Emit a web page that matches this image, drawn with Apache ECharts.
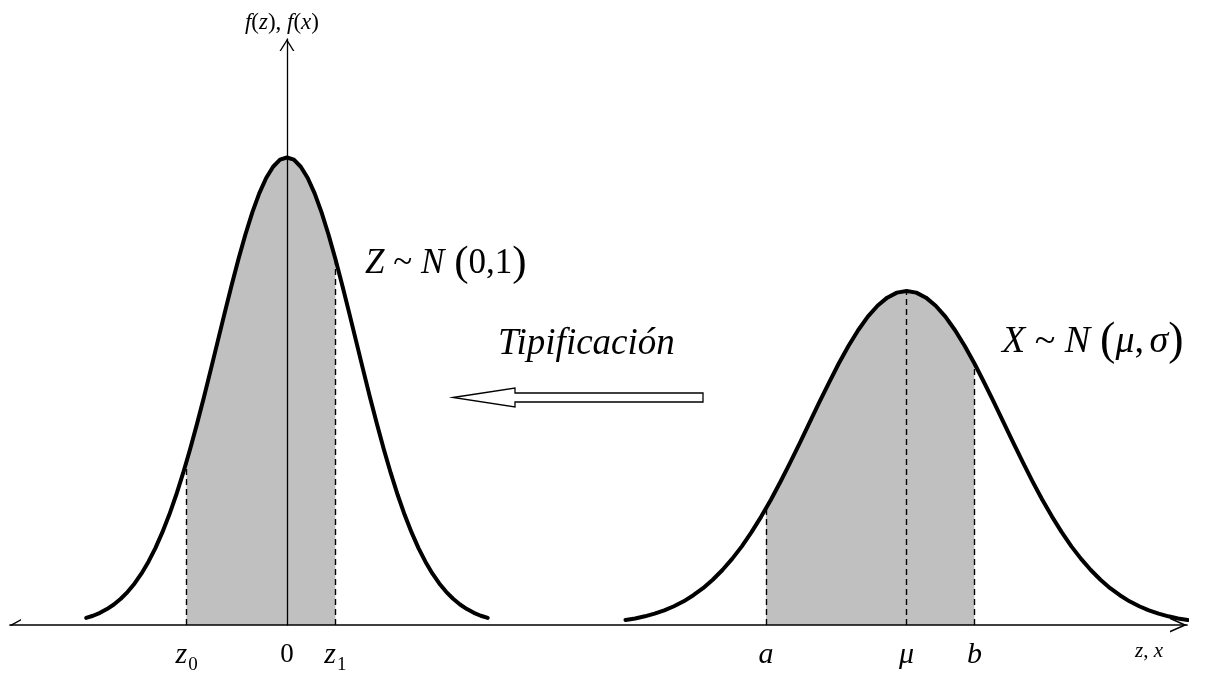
<!DOCTYPE html>
<html>
<head>
<meta charset="utf-8">
<title>Tipificación de la normal</title>
<script src="https://cdn.jsdelivr.net/npm/echarts@6.0.0/dist/echarts.min.js"></script>
<style>
  html, body { margin: 0; padding: 0; background: #fff; }
  #chart { width: 1206px; height: 675px; }
</style>
</head>
<body>
<div id="chart"></div>
<script>
// Z ~ N(0,1): abscissa z and density f(z)
const zValues = [-2.9, -2.8, -2.7, -2.6, -2.5, -2.4, -2.3, -2.2, -2.1, -2.0,
  -1.9, -1.8, -1.7, -1.6, -1.5, -1.4, -1.3, -1.2, -1.1, -1.0,
  -0.9, -0.8, -0.7, -0.6, -0.5, -0.4, -0.3, -0.2, -0.1, 0,
  0.1, 0.2, 0.3, 0.4, 0.5, 0.6, 0.7, 0.8, 0.9, 1.0,
  1.1, 1.2, 1.3, 1.4, 1.5, 1.6, 1.7, 1.8, 1.9, 2.0,
  2.1, 2.2, 2.3, 2.4, 2.5, 2.6, 2.7, 2.8, 2.9];
const zDensity = [0.0060, 0.0079, 0.0104, 0.0136, 0.0175, 0.0224, 0.0283, 0.0355, 0.0440, 0.0540,
  0.0656, 0.0790, 0.0940, 0.1109, 0.1295, 0.1497, 0.1714, 0.1942, 0.2179, 0.2420,
  0.2661, 0.2897, 0.3123, 0.3332, 0.3521, 0.3683, 0.3814, 0.3910, 0.3970, 0.3989,
  0.3970, 0.3910, 0.3814, 0.3683, 0.3521, 0.3332, 0.3123, 0.2897, 0.2661, 0.2420,
  0.2179, 0.1942, 0.1714, 0.1497, 0.1295, 0.1109, 0.0940, 0.0790, 0.0656, 0.0540,
  0.0440, 0.0355, 0.0283, 0.0224, 0.0175, 0.0136, 0.0104, 0.0079, 0.0060];

// X ~ N(mu, sigma) on the same horizontal axis: abscissa x and density f(x)
const xValues = [4.89, 5.03, 5.17, 5.31, 5.45, 5.59, 5.73, 5.87, 6.01, 6.15,
  6.29, 6.43, 6.57, 6.71, 6.85, 6.99, 7.13, 7.27, 7.41, 7.55,
  7.69, 7.83, 7.97, 8.11, 8.25, 8.39, 8.53, 8.67, 8.81, 8.95,
  9.09, 9.23, 9.37, 9.51, 9.65, 9.79, 9.93, 10.07, 10.21, 10.35,
  10.49, 10.63, 10.77, 10.91, 11.05, 11.19, 11.33, 11.47, 11.61, 11.75,
  11.89, 12.03, 12.17, 12.31, 12.45, 12.59, 12.73, 12.87, 13.01];
const xDensity = [0.0043, 0.0056, 0.0074, 0.0097, 0.0125, 0.0160, 0.0202, 0.0254, 0.0314, 0.0386,
  0.0469, 0.0564, 0.0671, 0.0792, 0.0925, 0.1069, 0.1224, 0.1387, 0.1556, 0.1729,
  0.1901, 0.2069, 0.2231, 0.2380, 0.2515, 0.2631, 0.2724, 0.2793, 0.2836, 0.2849,
  0.2836, 0.2793, 0.2724, 0.2631, 0.2515, 0.2380, 0.2231, 0.2069, 0.1901, 0.1729,
  0.1556, 0.1387, 0.1224, 0.1069, 0.0925, 0.0792, 0.0671, 0.0564, 0.0469, 0.0386,
  0.0314, 0.0254, 0.0202, 0.0160, 0.0125, 0.0097, 0.0074, 0.0056, 0.0043];

// Interval limits and the density at each limit
const zLimits = [-1.45, 0.7];            // z0, z1
const zLimitDensity = [0.1394, 0.3123];
const xLimits = [6.92, 9.93];            // a, b
const xLimitDensity = [0.0996, 0.2231];
const mu = 8.95;
const muDensity = 0.2849;

// Labels under the horizontal axis
const tickValues = [-1.45, 0, 0.7, 6.92, 8.95, 9.93];
const tickLabels = ['{it|z}{sub|0}', '{num|0}', '{it|z}{sub|1}', '{it|a}', '{it|μ}', '{it|b}'];

const SERIF = '"Liberation Serif", "Times New Roman", serif';

// Points of a curve between two limits, closed by the limit points themselves
function band(xs, ys, lo, hi, yLo, yHi) {
  const pts = [[lo, yLo]];
  xs.forEach(function (x, i) { if (x > lo && x < hi) pts.push([x, ys[i]]); });
  pts.push([hi, yHi]);
  return pts;
}
function pairs(xs, ys) { return xs.map(function (x, i) { return [x, ys[i]]; }); }
function drop(x, y) { return [{ coord: [x, 0] }, { coord: [x, y] }]; }

// Open arrow heads for the axis ends (drawn pointing up, rotated by the axis)
const arrowX = 'path://M0,17 L7.5,0 L15,17 L13.25,17 L7.5,3.97 L1.75,17 Z';
const tickXStart = 'path://M7.5,0 L13.5,11 L12,11 L6.6,1.2 Z M0,17 L0.01,17 L0.01,16.99 Z M15,17 L14.99,17 L14.99,16.99 Z';
const arrowY = 'path://M0,12 L7.5,0 L15,12 L13.47,12 L7.5,2.45 L1.53,12 Z';

const chart = echarts.init(document.getElementById('chart'), null, { renderer: 'canvas' });

const curveLine = { color: '#000', width: 4, cap: 'round', join: 'round' };
const dashStyle = { color: '#000', width: 1.4, type: [6, 4] };

function mathRich(size, parenSize, gapSize) {
  return {
    i: { fontFamily: SERIF, fontStyle: 'italic', fontSize: size, lineHeight: 48, fill: '#000' },
    r: { fontFamily: SERIF, fontSize: size, lineHeight: 48, fill: '#000' },
    s: { fontFamily: SERIF, fontSize: gapSize, lineHeight: 48, fill: '#000' },
    t: { fontFamily: SERIF, fontSize: 22, lineHeight: 48, fill: '#000' },
    p: { fontFamily: SERIF, fontSize: parenSize, lineHeight: 48, fill: '#000' }
  };
}

chart.setOption({
  animation: false,
  backgroundColor: '#fff',
  grid: { left: 10, right: 19, top: 39, bottom: 50, containLabel: false, outerBoundsMode: 'none' },
  xAxis: {
    type: 'value', min: -4, max: 13, z: 7,
    splitLine: { show: false }, axisTick: { show: false },
    axisLine: {
      onZero: true,
      lineStyle: { color: '#000', width: 1.7 },
      symbol: [tickXStart, arrowX],
      symbolSize: [15, 17],
      symbolOffset: [8.5, -8.5]
    },
    name: '{i|z}{r|, }{i|x}',
    nameLocation: 'end',
    nameGap: -38,
    nameTextStyle: {
      align: 'center', verticalAlign: 'top', padding: [16, 0, 0, 0],
      rich: {
        i: { fontFamily: SERIF, fontStyle: 'italic', fontSize: 21, color: '#000' },
        r: { fontFamily: SERIF, fontSize: 21, color: '#000' }
      }
    },
    axisLabel: {
      show: true,
      customValues: tickValues,
      margin: 10,
      formatter: function (v) {
        let best = 0;
        tickValues.forEach(function (t, i) { if (Math.abs(t - v) < Math.abs(tickValues[best] - v)) best = i; });
        return tickLabels[best];
      },
      rich: {
        it: { fontFamily: SERIF, fontStyle: 'italic', fontSize: 30, lineHeight: 40, color: '#000' },
        num: { fontFamily: SERIF, fontSize: 27, lineHeight: 40, color: '#000' },
        sub: { fontFamily: SERIF, fontSize: 19, lineHeight: 19, verticalAlign: 'top', padding: [21, 0, 0, 1], color: '#000' }
      }
    }
  },
  yAxis: {
    type: 'value', min: 0, max: 0.5, z: 7,
    splitLine: { show: false }, axisTick: { show: false }, axisLabel: { show: false },
    axisLine: {
      onZero: true,
      lineStyle: { color: '#000', width: 1.3 },
      symbol: ['none', arrowY],
      symbolSize: [15, 12],
      symbolOffset: [0, -6]
    },
    name: '{i|f}{r|(}{i|z}{r|), }{i|f}{r|(}{i|x}{r|)}',
    nameLocation: 'end',
    nameGap: 5,
    nameTextStyle: {
      align: 'center', padding: [0, 10, 0, 0],
      rich: {
        i: { fontFamily: SERIF, fontStyle: 'italic', fontSize: 23, color: '#000' },
        r: { fontFamily: SERIF, fontSize: 23, color: '#000' }
      }
    }
  },
  series: [
    {
      name: 'P(z0 < Z < z1)', type: 'line', z: 1, clip: false, silent: true,
      showSymbol: false, symbol: 'none',
      lineStyle: { width: 0 },
      areaStyle: { color: '#c0c0c0', opacity: 1 },
      data: band(zValues, zDensity, zLimits[0], zLimits[1], zLimitDensity[0], zLimitDensity[1]),
      markLine: {
        silent: true, symbol: ['none', 'none'], label: { show: false }, z: 3,
        lineStyle: dashStyle,
        data: [drop(zLimits[0], zLimitDensity[0]), drop(zLimits[1], zLimitDensity[1])]
      }
    },
    {
      name: 'P(a < X < b)', type: 'line', z: 1, clip: false, silent: true,
      showSymbol: false, symbol: 'none',
      lineStyle: { width: 0 },
      areaStyle: { color: '#c0c0c0', opacity: 1 },
      data: band(xValues, xDensity, xLimits[0], xLimits[1], xLimitDensity[0], xLimitDensity[1]),
      markLine: {
        silent: true, symbol: ['none', 'none'], label: { show: false }, z: 3,
        lineStyle: dashStyle,
        data: [drop(xLimits[0], xLimitDensity[0]), drop(mu, muDensity), drop(xLimits[1], xLimitDensity[1])]
      }
    },
    {
      name: 'f(z)', type: 'line', z: 8, clip: false, silent: true,
      showSymbol: false, symbol: 'none', smooth: false,
      lineStyle: curveLine,
      data: pairs(zValues, zDensity)
    },
    {
      name: 'f(x)', type: 'line', z: 8, clip: false, silent: true,
      showSymbol: false, symbol: 'none', smooth: false,
      lineStyle: curveLine,
      data: pairs(xValues, xDensity)
    }
  ],
  graphic: [
    {
      type: 'text', x: 365, y: 264, silent: true,
      style: {
        text: '{i|Z}{r| ~ }{i|N}{s| }{p|(}{r|0,1}{p|)}',
        align: 'left', verticalAlign: 'middle',
        rich: mathRich(35, 43, 40)
      }
    },
    {
      type: 'text', x: 498, y: 344, silent: true,
      style: {
        text: 'Tipificación', align: 'left', verticalAlign: 'middle',
        fontFamily: SERIF, fontStyle: 'italic', fontSize: 37, fill: '#000'
      }
    },
    {
      type: 'polygon', silent: true,
      shape: { points: [[453, 397.5], [515, 388], [515, 393], [703, 393], [703, 402], [515, 402], [515, 407]] },
      style: { fill: '#fff', stroke: '#000', lineWidth: 1.3 }
    },
    {
      type: 'text', x: 1002, y: 342, silent: true,
      style: {
        text: '{i|X}{r| ~ }{i|N}{s| }{p|(}{i|μ}{r|,}{t| }{i|σ}{p|)}',
        align: 'left', verticalAlign: 'middle',
        rich: mathRich(38, 46, 40)
      }
    }
  ]
});
</script>
</body>
</html>
